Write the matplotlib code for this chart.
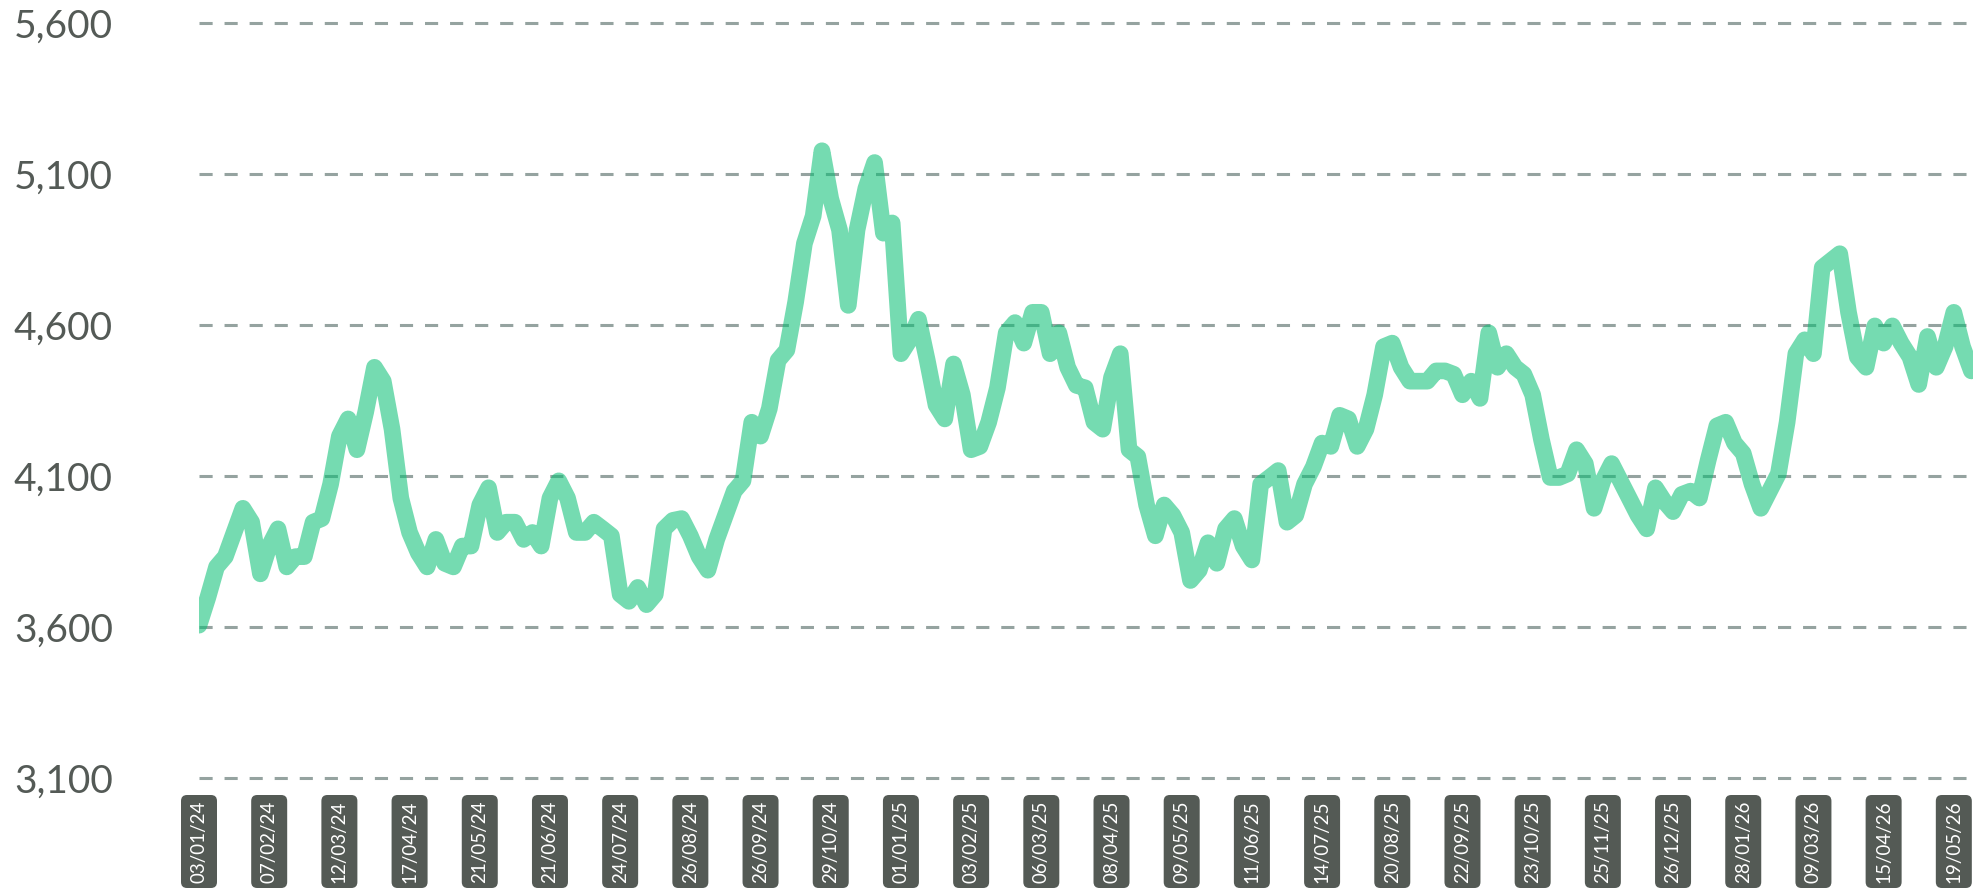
import matplotlib
matplotlib.use("Agg")
import matplotlib.pyplot as plt
from matplotlib.patches import FancyBboxPatch
from matplotlib.transforms import IdentityTransform
import numpy as np

# ---- data -------------------------------------------------------------
tick_labels = [
    "03/01/24", "07/02/24", "12/03/24", "17/04/24", "21/05/24", "21/06/24",
    "24/07/24", "26/08/24", "26/09/24", "29/10/24", "01/01/25", "03/02/25",
    "06/03/25", "08/04/25", "09/05/25", "11/06/25", "14/07/25", "20/08/25",
    "22/09/25", "23/10/25", "25/11/25", "26/12/25", "28/01/26", "09/03/26",
    "15/04/26", "19/05/26",
]
points_per_label = 8

values_2024a = [
    3606, 3697, 3799, 3833, 3913, 3993, 3947, 3776, 3868, 3925,
    3799, 3833, 3833, 3947, 3959, 4073, 4232, 4289, 4187, 4312,
    4460, 4414, 4255, 4027, 3913, 3845, 3799, 3890, 3811, 3799,
    3868, 3868, 4004, 4061, 3913, 3947, 3947, 3890, 3913, 3868,
    4027, 4084, 4027, 3913, 3913, 3947, 3925, 3902, 3708, 3685,
    3731, 3674, 3708,
]
values_2024b = [
    3925, 3953, 3959, 3902, 3833, 3788, 3890, 3970, 4050, 4084,
    4278, 4232, 4323, 4483, 4517, 4676, 4870, 4961, 5177, 5018,
    4915, 4665, 4915, 5052, 5138, 4904, 4938, 4505, 4551, 4619,
    4483, 4335, 4289, 4471, 4369, 4187, 4198, 4278, 4392, 4574,
    4608, 4540, 4642, 4642, 4505, 4574, 4460, 4400, 4392, 4278,
]
values_2025 = [
    4255, 4426, 4505, 4187, 4164, 4004, 3902, 4004, 3970, 3913,
    3754, 3788, 3879, 3811, 3925, 3959, 3868, 3822, 4073, 4095,
    4118, 3947, 3970, 4073, 4130, 4209, 4198, 4301, 4289, 4198,
    4255, 4369, 4528, 4540, 4460, 4414, 4414, 4414, 4448, 4448,
    4437, 4369, 4414, 4357, 4574, 4460, 4505, 4460, 4437, 4369,
]
values_2026 = [
    4221, 4095, 4095, 4107, 4187, 4141, 3993, 4084, 4141, 4084,
    4027, 3970, 3925, 4061, 4016, 3982, 4039, 4050, 4027, 4152,
    4266, 4278, 4209, 4175, 4073, 3993, 4050, 4107, 4278, 4505,
    4551, 4505, 4790, 4813, 4836, 4642, 4494, 4460, 4597, 4540,
    4597, 4540, 4494, 4403, 4562, 4460, 4528, 4642, 4528, 4448,
]
values = values_2024a + values_2024b + values_2025 + values_2026
y_ticks = [3100, 3600, 4100, 4600, 5100, 5600]

# ---- style ------------------------------------------------------------
LINE_COLOR = "#09bf74"
GRID_COLOR = "#95a3a0"
TEXT_COLOR = "#545a56"
BOX_COLOR = "#545a55"

plt.rcParams["font.family"] = ["Lato", "DejaVu Sans"]

W, H = 1974, 896
fig = plt.figure(figsize=(W / 100, H / 100), dpi=100)
left_px, right_px, top_px, bottom_px = 199, 1974, 23, 778
ax = fig.add_axes([left_px / W, 1 - bottom_px / H,
                   (right_px - left_px) / W, (bottom_px - top_px) / H])

x = np.arange(len(values))
ax.plot(x, values, color=LINE_COLOR, alpha=0.56, linewidth=12,
        solid_joinstyle="round", solid_capstyle="round", zorder=3)

last_label_pos = (len(tick_labels) - 1) * points_per_label
ax.set_xlim(0, last_label_pos + 2.3)
ax.set_ylim(y_ticks[0], y_ticks[-1])

ax.set_yticks(y_ticks)
ax.set_yticklabels([f"{v:,}" for v in y_ticks])
ax.tick_params(axis="y", length=0, pad=62, labelsize=28, labelcolor=TEXT_COLOR)

tick_pos = np.arange(len(tick_labels)) * points_per_label
ax.set_xticks(tick_pos)
ax.set_xticklabels(tick_labels, rotation=90, ha="center", va="center")
box_top_px, box_bot_px = 795, 888
label_center_gap = (box_top_px + box_bot_px) / 2 - bottom_px
ax.tick_params(axis="x", length=0, pad=label_center_gap * 72 / 100,
               labelsize=13.5, labelcolor="white")

ax.yaxis.grid(True, color=GRID_COLOR, linewidth=2.2,
              linestyle=(0, (4.3, 3.9)), zorder=1)
ax.xaxis.grid(False)
ax.set_axisbelow(True)
for gl in ax.get_ygridlines():
    gl.set_clip_on(False)

for s in ax.spines.values():
    s.set_visible(False)

# rounded dark boxes behind the date labels, placed via the axis transform
box_w = 36
for p in tick_pos:
    xc = ax.transData.transform((p, y_ticks[0]))[0]
    patch = FancyBboxPatch((xc - box_w / 2, H - box_bot_px), box_w,
                           box_bot_px - box_top_px,
                           boxstyle="round,pad=0,rounding_size=6",
                           facecolor=BOX_COLOR, edgecolor="none",
                           transform=IdentityTransform(), zorder=-1)
    fig.add_artist(patch)

fig.savefig("out.png", dpi=100)
